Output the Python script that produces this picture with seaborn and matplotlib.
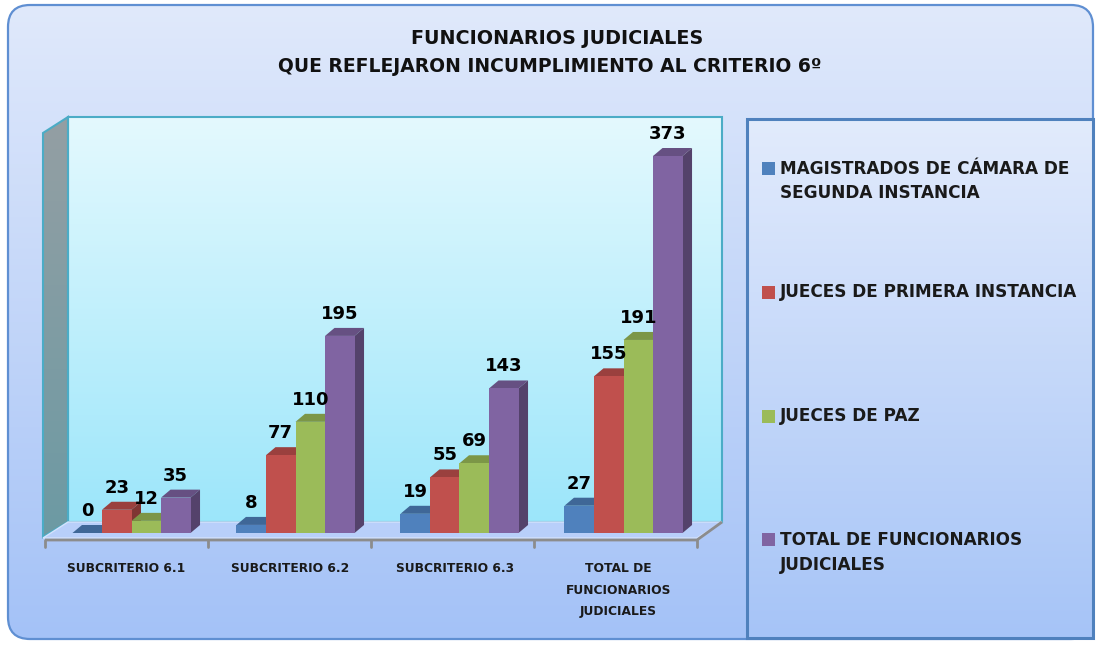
import numpy as np
import pandas as pd
import matplotlib
matplotlib.use("Agg")
import matplotlib.pyplot as plt
import seaborn as sns
from matplotlib.patches import Polygon, Rectangle, FancyBboxPatch
from matplotlib.colors import to_rgb

# Datos del grafico
categorias = ["SUBCRITERIO 6.1", "SUBCRITERIO 6.2", "SUBCRITERIO 6.3",
              "TOTAL DE\nFUNCIONARIOS\nJUDICIALES"]
series = ["MAGISTRADOS DE CÁMARA DE\nSEGUNDA INSTANCIA",
          "JUECES DE PRIMERA INSTANCIA",
          "JUECES DE PAZ",
          "TOTAL DE FUNCIONARIOS\nJUDICIALES"]
magistrados = [0, 8, 19, 27]
jueces_primera = [23, 77, 55, 155]
jueces_paz = [12, 110, 69, 191]
total_funcionarios = [35, 195, 143, 373]
colores = ["#4f81bd", "#c0504d", "#9bbb59", "#8064a2"]
titulo = ["FUNCIONARIOS JUDICIALES",
          "QUE REFLEJARON INCUMPLIMIENTO AL CRITERIO 6º"]

W, H = 1100, 645
FONT = "DejaVu Sans"

# geometria (pixeles)
X_LEFT, X_RIGHT = 49.5, 705.5      # xlim -0.5 .. 3.5
Y_BASE, PX_PER_UNIT = 533, 1.0107  # y=0 y escala
Y_MAX = 400
DEPTH_X, DEPTH_Y = 9.5, 8          # profundidad de barras en pixeles


def gradient(ax, extent, top, bottom, clip):
    c0, c1 = np.array(to_rgb(top)), np.array(to_rgb(bottom))
    t = np.linspace(0, 1, 256)[:, None, None]
    img = c0 * (1 - t) + c1 * t
    im = ax.imshow(img, extent=extent, origin="upper", aspect="auto",
                   interpolation="bilinear", zorder=clip.get_zorder())
    im.set_clip_path(clip)


def shade(color, f):
    return tuple(np.array(to_rgb(color)) * f)


df = pd.DataFrame({
    "criterio": categorias * 4,
    "serie": np.repeat(series, 4),
    "valor": magistrados + jueces_primera + jueces_paz + total_funcionarios,
})

sns.set_theme(style="white")
plt.rcParams["font.family"] = [FONT]

fig = plt.figure(figsize=(W / 100, H / 100), dpi=100)
fig.patch.set_facecolor("white")

# --- fondo y marco (coordenadas en pixeles) ---
bg = fig.add_axes([0, 0, 1, 1])
bg.set_xlim(0, W)
bg.set_ylim(H, 0)
bg.axis("off")

frame = FancyBboxPatch((8, 5), 1085, 634, boxstyle="round,pad=0,rounding_size=22",
                       facecolor="none", edgecolor="#5f8fd2", lw=1.6, zorder=1)
bg.add_patch(frame)
gradient(bg, (8, 1093, 639, 5), "#e0e9fb", "#a4c2f7", frame)
frame.set_zorder(2)

# pared trasera
back = Rectangle((68, 117), 654, 405, facecolor="none", edgecolor="#4bacc6",
                 lw=1.5, zorder=4)
bg.add_patch(back)
gradient(bg, (68, 722, 522, 117), "#e4f9fe", "#9ce6fa", back)
back.set_zorder(5)

# pared lateral
side = Polygon([(43, 133), (68, 117), (68, 522), (43, 537)], closed=True,
               facecolor="none", edgecolor="#4bacc6", lw=1.5, zorder=4)
bg.add_patch(side)
gradient(bg, (43, 68, 537, 117), "#949fa3", "#6c9aa4", side)
side.set_zorder(5)

# piso
floor = Polygon([(43, 538), (697, 538), (722, 522), (68, 522)], closed=True,
                facecolor="#b8cffa", edgecolor="#d5e3fc", lw=1, zorder=5)
bg.add_patch(floor)

# eje horizontal frontal
bg.plot([45, 697, 722], [540, 540, 522], color="#8c8c8c", lw=2, zorder=6,
        solid_capstyle="butt")
for xt in np.linspace(45, 697, len(categorias) + 1):
    bg.plot([xt, xt], [540, 547], color="#8c8c8c", lw=2, zorder=6)

# leyenda
leg_box = Rectangle((747, 119), 346, 519, facecolor="none", edgecolor="#4f81bd",
                    lw=2.2, zorder=4)
bg.add_patch(leg_box)
gradient(bg, (747, 1093, 638, 119), "#e2ebfc", "#a6c4f7", leg_box)
leg_box.set_zorder(5)
for i, (name, col) in enumerate(zip(series, colores)):
    y0 = 168.5 + 123.8 * i
    bg.add_patch(Rectangle((762, y0 - 6.5), 13, 13, facecolor=col,
                           edgecolor="none", lw=0, zorder=6))
    for j, line in enumerate(name.split("\n")):
        bg.text(780, y0 + 25 * j, line, fontsize=12.2, fontweight="bold",
                color="#1a1a1a", va="center", ha="left", zorder=6)

# titulo
bg.text(557, 38, titulo[0], fontsize=13.8, fontweight="bold", ha="center",
        va="center", color="#111111", zorder=6)
bg.text(550, 67, titulo[1], fontsize=13.5, fontweight="bold", ha="center",
        va="center", color="#111111", zorder=6)

# --- area de barras ---
ax = fig.add_axes([X_LEFT / W, 1 - Y_BASE / H, (X_RIGHT - X_LEFT) / W,
                   Y_MAX * PX_PER_UNIT / H])
ax.patch.set_alpha(0)
sns.barplot(data=df, x="criterio", y="valor", hue="serie", hue_order=series,
            order=categorias, palette=colores, saturation=1, width=0.72,
            ax=ax, legend=False, edgecolor="none", linewidth=0)
ax.set_xlim(-0.5, 3.5)
ax.set_ylim(0, Y_MAX)
for s in ax.spines.values():
    s.set_visible(False)
ax.set_xlabel("")
ax.set_ylabel("")
ax.set_yticks([])

dxu = DEPTH_X / ((X_RIGHT - X_LEFT) / 4)
dyu = DEPTH_Y / PX_PER_UNIT

bars = sorted([p for p in ax.patches if p.get_width() > 0], key=lambda p: p.get_x())
for k, p in enumerate(bars):
    x0, w, h = p.get_x(), p.get_width(), p.get_height()
    col = p.get_facecolor()[:3]
    p.set_zorder(3 + 2 * k)
    top = Polygon([(x0, h), (x0 + w, h), (x0 + w + dxu, h + dyu), (x0 + dxu, h + dyu)],
                  closed=True, facecolor=shade(col, 0.8), edgecolor="none",
                  zorder=2 + 2 * k)
    sidef = Polygon([(x0 + w, 0), (x0 + w + dxu, dyu), (x0 + w + dxu, h + dyu),
                     (x0 + w, h)], closed=True, facecolor=shade(col, 0.66),
                    edgecolor="none", zorder=2 + 2 * k)
    ax.add_patch(top)
    ax.add_patch(sidef)
    ax.text(x0 + w / 2, h + dyu + 9, f"{int(round(h))}", ha="center",
            va="baseline", fontsize=13, fontweight="bold", color="black",
            zorder=100)

ax.set_xticks(np.arange(len(categorias)) - 0.03, categorias)
ax.tick_params(axis="x", length=0, pad=21, labelsize=8.8)
for lab in ax.get_xticklabels():
    lab.set_fontweight("bold")
    lab.set_linespacing(1.85)
    lab.set_color("#1a1a1a")

fig.savefig("out.png", dpi=100)
